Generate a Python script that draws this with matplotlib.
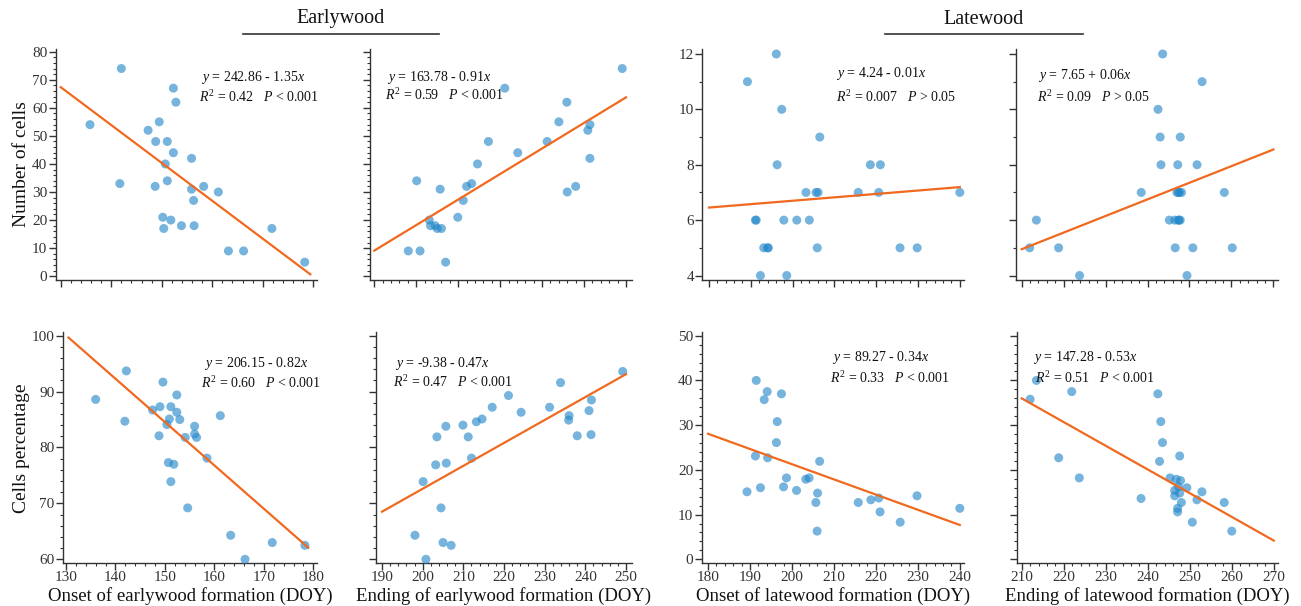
import matplotlib.pyplot as plt
from matplotlib.lines import Line2D
from matplotlib.ticker import MultipleLocator
import numpy as np

plt.rcParams["font.family"] = "Liberation Serif"
plt.rcParams["mathtext.fontset"] = "custom"
plt.rcParams["mathtext.rm"] = "Liberation Serif"
plt.rcParams["mathtext.it"] = "Liberation Serif:italic"

# earlywood: onset / ending (DOY) against number of cells
ew_onset_a = [142.0, 135.8, 141.7, 147.3, 149.5, 148.8, 151.1, 152.3, 152.8, 152.3, 150.7, 148.7, 151.1, 150.2,
              150.4, 151.8, 153.9, 155.9, 155.9, 156.3, 156.4, 158.3, 161.2, 163.2, 166.2, 171.8, 178.3]
ew_cells_a = [74, 54, 33, 52, 55, 48, 48, 67, 62, 44, 40, 32, 34, 21, 17, 20, 18, 42, 31, 27, 18, 32, 30, 9, 9, 17, 5]
ew_end_a = [249.1, 221.1, 235.9, 234.0, 241.4, 240.9, 231.2, 217.2, 224.2, 241.4, 214.6, 200.1, 213.2, 212.0,
            205.7, 238.0, 236.0, 211.2, 209.9, 203.1, 203.4, 204.5, 205.0, 206.0, 198.1, 200.9, 207.0]
ew_cells_b = [74, 67, 62, 55, 54, 52, 48, 48, 44, 42, 40, 34, 33, 32, 31, 32, 30, 27, 21, 20, 18, 18, 17, 17, 9, 9, 5]

# latewood: onset / ending (DOY) against number of cells
lw_onset_a = [189.2, 196.1, 197.4, 196.3, 191.1, 191.3, 193.1, 194.0, 194.2, 192.3, 198.6, 197.9, 201.0,
              204.0, 203.2, 205.6, 206.1, 206.5, 205.9, 215.7, 218.6, 221.0, 220.6, 225.7, 229.8, 240.0]
lw_cells_a = [11, 12, 10, 8, 6, 6, 5, 5, 5, 4, 4, 6, 6, 6, 7, 7, 7, 9, 5, 7, 8, 8, 7, 5, 5, 7]
lw_end_a = [243.6, 253.0, 242.5, 243.0, 247.8, 243.2, 247.2, 251.8, 238.5, 247.0, 247.4, 247.6, 248.1, 258.3,
            213.5, 245.2, 246.5, 247.3, 247.5, 247.8, 211.9, 218.8, 246.6, 250.8, 260.2, 223.8, 249.4]
lw_cells_b = [12, 11, 10, 9, 9, 8, 8, 8, 7, 7, 7, 7, 7, 7, 6, 6, 6, 6, 6, 6, 5, 5, 5, 5, 5, 4, 4]

# earlywood: onset / ending against cells percentage
ew_onset_b = [142.2, 136.0, 141.9, 147.5, 149.0, 149.6, 148.8, 150.4, 150.9, 151.2, 152.4, 152.4, 153.0, 154.1,
              156.0, 156.0, 156.4, 158.5, 161.2, 150.7, 151.8, 151.2, 154.6, 163.3, 166.2, 171.7, 178.3]
ew_pct_a = [93.7, 88.6, 84.7, 86.7, 87.3, 91.7, 82.1, 84.1, 85.1, 87.3, 89.4, 86.3, 85.0, 81.8,
            83.8, 82.4, 81.8, 78.1, 85.7, 77.3, 77.0, 73.9, 69.2, 64.3, 60.0, 63.0, 62.5]
ew_end_b = [249.2, 233.9, 221.1, 241.5, 217.1, 231.2, 224.2, 240.9, 236.0, 235.9, 214.6, 213.2, 205.7, 209.9,
            211.2, 203.5, 238.0, 241.4, 212.0, 203.2, 205.8, 200.1, 204.5, 198.1, 205.0, 207.0, 200.8]
ew_pct_b = [93.6, 91.6, 89.3, 88.5, 87.2, 87.2, 86.3, 86.6, 85.7, 84.9, 85.1, 84.6, 83.8, 84.0,
            81.9, 81.9, 82.1, 82.3, 78.1, 76.9, 77.2, 73.9, 69.2, 64.3, 63.0, 62.5, 60.0]

# latewood: onset / ending against cells percentage
lw_onset_b = [191.5, 194.1, 193.4, 197.5, 196.5, 196.3, 191.3, 194.2, 206.6, 189.3, 192.5, 198.7, 198.0,
              201.1, 203.3, 204.1, 206.1, 205.7, 206.0, 215.8, 218.8, 220.7, 221.0, 225.8, 229.8, 240.0]
lw_pct_a = [40.0, 37.5, 35.7, 37.0, 30.8, 26.1, 23.1, 22.7, 21.9, 15.1, 16.0, 18.2, 16.2,
            15.4, 17.9, 18.2, 14.8, 12.7, 6.3, 12.7, 13.3, 13.7, 10.6, 8.3, 14.2, 11.4]
lw_end_b = [213.5, 212.0, 221.9, 242.4, 243.1, 243.5, 247.6, 242.8, 218.8, 223.7, 245.3, 246.8, 247.8, 247.3,
            249.3, 246.4, 247.6, 252.9, 246.4, 238.4, 251.7, 248.0, 258.2, 247.1, 247.1, 250.6, 260.0]
lw_pct_b = [40.0, 35.8, 37.5, 37.0, 30.8, 26.1, 23.1, 21.9, 22.7, 18.2, 18.2, 17.9, 17.6, 16.2,
            16.0, 15.4, 14.8, 15.1, 14.2, 13.6, 13.3, 12.7, 12.7, 11.4, 10.6, 8.3, 6.3]

# fitted lines as drawn: intercept, slope, x start, x end
fit_intercept = [242.86, -163.78, 4.24, -7.65, 200.8, -9.38, 89.27, 147.28]
fit_slope = [-1.35, 0.91, 0.0123, 0.06, -0.775, 0.41, -0.34, -0.53]
fit_x0 = [130, 190, 180, 210, 130.5, 190, 180, 210]
fit_x1 = [179.4, 250, 240, 270, 179.0, 250, 240, 270]

eq_labels = ["$y$ = 242.86 - 1.35$x$", "$y$ = 163.78 - 0.91$x$", "$y$ = 4.24 - 0.01$x$", "$y$ = 7.65 + 0.06$x$",
             "$y$ = 206.15 - 0.82$x$", "$y$ = -9.38 - 0.47$x$", "$y$ = 89.27 - 0.34$x$", "$y$ = 147.28 - 0.53$x$"]
stat_labels = ["$R^{2}$ = 0.42   $P$ < 0.001", "$R^{2}$ = 0.59   $P$ < 0.001",
               "$R^{2}$ = 0.007   $P$ > 0.05", "$R^{2}$ = 0.09   $P$ > 0.05",
               "$R^{2}$ = 0.60   $P$ < 0.001", "$R^{2}$ = 0.47   $P$ < 0.001",
               "$R^{2}$ = 0.33   $P$ < 0.001", "$R^{2}$ = 0.51   $P$ < 0.001"]

xs = [ew_onset_a, ew_end_a, lw_onset_a, lw_end_a, ew_onset_b, ew_end_b, lw_onset_b, lw_end_b]
ys = [ew_cells_a, ew_cells_b, lw_cells_a, lw_cells_b, ew_pct_a, ew_pct_b, lw_pct_a, lw_pct_b]

x_labels = ["Onset of earlywood formation (DOY)", "Ending of earlywood formation (DOY)",
            "Onset of latewood formation (DOY)", "Ending of latewood formation (DOY)"]

W, H = 1301, 606
fig = plt.figure(figsize=(W / 100, H / 100), dpi=100)

# axes boxes in pixels: left, right, top, bottom
boxes = [(55.5, 316.7, 49, 279.5), (370, 631.7, 49, 279.5), (702.3, 964, 49, 279.5), (1015.7, 1278, 49, 279.5),
         (63, 316.7, 332, 563), (376, 631.7, 332, 563), (701.7, 964, 332, 563), (1016.7, 1278, 332, 563)]
xlims = [(128.97, 180.67), (188.97, 251.36), (178.4, 241.0), (208.57, 271.1),
         (129.39, 180.69), (188.52, 251.4), (178.5, 241.0), (208.8, 271.0)]
ylims = [(-1.18, 80.96), (-1.18, 80.96), (3.856, 12.18), (3.856, 12.18),
         (59.34, 100.66), (59.34, 100.66), (-0.83, 50.83), (-0.83, 50.83)]
y_major = [10, 10, 2, 2, 10, 10, 10, 10]
y_minor = [2, 2, 1, 1, 2, 2, 2, 2]
# text anchor (left x, centre y) of the two equation lines, pixels
eq_pos = [(201, 77, 199, 97), (387, 77, 385, 95), (836, 74, 836, 97), (1038, 75, 1037, 97),
          (204, 363, 201, 383), (395, 363, 393, 382), (832, 358, 830, 378), (1033, 358, 1035, 378)]

dot_color = "#2287c9"
line_color = "#f0691e"
ink = "#333333"

for i in range(8):
    l, r, t, b = boxes[i]
    ax = fig.add_axes([l / W, 1 - b / H, (r - l) / W, (b - t) / H])
    ax.scatter(xs[i], ys[i], s=42, color=dot_color, alpha=0.62, edgecolors="none", zorder=3, clip_on=False)
    fx = np.array([fit_x0[i], fit_x1[i]])
    ax.plot(fx, fit_intercept[i] + fit_slope[i] * fx, color=line_color, lw=1.6, zorder=4)

    ax.set_xlim(*xlims[i])
    ax.set_ylim(*ylims[i])
    ax.xaxis.set_major_locator(MultipleLocator(10))
    ax.xaxis.set_minor_locator(MultipleLocator(2))
    ax.yaxis.set_major_locator(MultipleLocator(y_major[i]))
    ax.yaxis.set_minor_locator(MultipleLocator(y_minor[i]))
    for side in ["top", "right"]:
        ax.spines[side].set_visible(False)
    for side in ["left", "bottom"]:
        ax.spines[side].set_color(ink)
        ax.spines[side].set_linewidth(1.0)
    ax.tick_params(which="major", direction="out", length=5, width=1, colors=ink, labelsize=11, pad=1)
    ax.tick_params(which="minor", direction="out", length=2.5, width=0.8, colors=ink)
    if i % 2 == 1:
        ax.tick_params(labelleft=False)
    if i < 4:
        ax.tick_params(labelbottom=False)

    x1, y1, x2, y2 = eq_pos[i]
    fig.text(x1 / W, 1 - y1 / H, eq_labels[i], fontsize=10, ha="left", va="center", color="#111111")
    fig.text(x2 / W, 1 - y2 / H, stat_labels[i], fontsize=10, ha="left", va="center", color="#111111")

    if i >= 4:
        fig.text((l + r) / 2 / W, 1 - 596 / H, x_labels[i - 4], fontsize=13.5, ha="center", va="center",
                 color="#111111")

fig.text(22 / W, 1 - 164 / H, "Number of cells", rotation=90, fontsize=14, ha="center", va="center",
         color="#111111")
fig.text(22 / W, 1 - 448 / H, "Cells percentage", rotation=90, fontsize=14, ha="center", va="center",
         color="#111111")

# group headers with underline
for name, x0, x1 in [("Earlywood", 243, 439), ("Latewood", 885, 1083)]:
    fig.text((x0 + x1) / 2 / W, 1 - 19 / H, name, fontsize=14.5, ha="center", va="center", color="#111111")
    fig.add_artist(Line2D([x0 / W, x1 / W], [1 - 34 / H, 1 - 34 / H], color=ink, lw=1.2))

fig.savefig("out.png", dpi=100, facecolor="white")
